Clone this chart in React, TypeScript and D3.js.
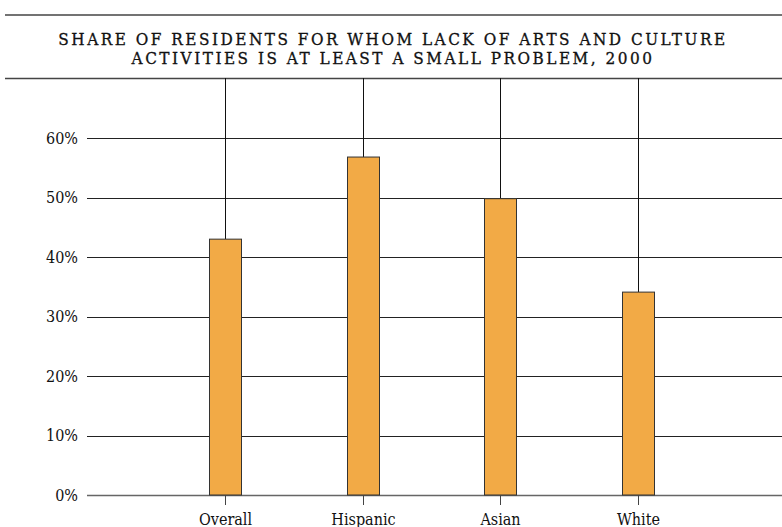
import React from "react";
import * as d3 from "d3";

const categories = ["Overall", "Hispanic", "Asian", "White"];
const values = [43, 56.8, 49.8, 34.1];
const yTicks = [0, 10, 20, 30, 40, 50, 60];
const titleLines = [
  "SHARE OF RESIDENTS FOR WHOM LACK OF ARTS AND CULTURE",
  "ACTIVITIES IS AT LEAST A SMALL PROBLEM, 2000",
];

const W = 782;
const H = 527;
const FONT = "'DejaVu Serif', serif";

export default function App() {
  const plotLeft = 87;
  const plotRight = 782;
  const plotTop = 78;
  const y = d3.scaleLinear().domain([0, 60]).range([495, 138]);
  const x = d3.scalePoint<string>().domain(categories).range([225, 638]);
  const barW = 32;

  return (
    <svg
      width={W}
      height={H}
      style={{ position: "absolute", left: 0, top: 0, background: "#fff" }}
    >
      <line x1={5} x2={W} y1={15} y2={15} stroke="#444" strokeWidth={1.5} />
      <line x1={5} x2={W} y1={78.5} y2={78.5} stroke="#444" strokeWidth={1.5} />
      {titleLines.map((t, i) => (
        <text
          key={i}
          x={393}
          y={45 + i * 18.5}
          textAnchor="middle"
          fontFamily={FONT}
          fontStretch="condensed"
          fontSize={17}
          letterSpacing={2.5}
          fill="#111"
          stroke="#111"
          strokeWidth={0.3}
        >
          {t}
        </text>
      ))}
      {yTicks.map((t) => (
        <g key={t}>
          <line
            x1={plotLeft}
            x2={plotRight}
            y1={Math.round(y(t)) + 0.5}
            y2={Math.round(y(t)) + 0.5}
            stroke={t === 0 ? "#666" : "#222"}
            strokeWidth={t === 0 ? 1.5 : 1}
          />
          <text
            x={plotLeft - 9}
            y={y(t) + 5.5}
            textAnchor="end"
            fontFamily={FONT}
            fontStretch="condensed"
            fontSize={16}
            fill="#111"
          >
            {t}%
          </text>
        </g>
      ))}
      {categories.map((c, i) => {
        const cx = Math.round(x(c)!) + 0.5;
        return (
          <g key={c}>
            <line x1={cx} x2={cx} y1={plotTop} y2={y(values[i])} stroke="#111" strokeWidth={1} />
            <rect
              x={cx - barW / 2}
              y={y(values[i])}
              width={barW}
              height={y(0) - y(values[i])}
              fill="#f2aa46"
              stroke="#333"
              strokeWidth={1}
            />
            <line x1={cx} x2={cx} y1={y(0)} y2={y(0) + 10} stroke="#444" strokeWidth={1} />
            <text
              x={cx}
              y={525}
              textAnchor="middle"
              fontFamily={FONT}
              fontStretch="condensed"
              fontSize={16}
              fill="#111"
            >
              {c}
            </text>
          </g>
        );
      })}
    </svg>
  );
}
